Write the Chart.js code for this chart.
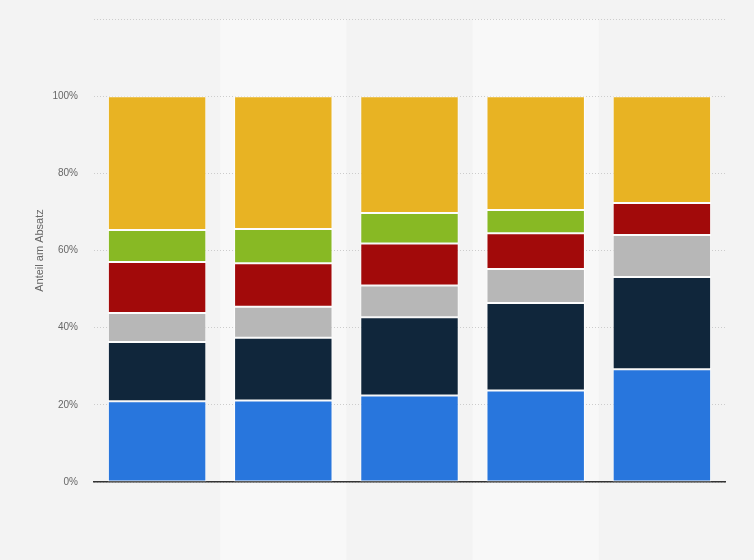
<!DOCTYPE html>
<html>
<head>
<meta charset="utf-8">
<script src="https://cdn.jsdelivr.net/npm/chart.js@4/dist/chart.umd.min.js"></script>
<style>
  html, body { margin: 0; padding: 0; background: #f3f3f3; }
  #wrap { width: 754px; height: 560px; }
</style>
</head>
<body>
<div id="wrap"><canvas id="chart"></canvas></div>
<script>
// Kategorien (Achsenbeschriftung im Original nicht sichtbar)
const categories = ['1', '2', '3', '4', '5'];

// Anteile je Segment in Prozent, von unten nach oben
const seriesBlue   = [20.9, 21.1, 22.4, 23.7, 29.2];
const seriesNavy   = [15.4, 16.3, 20.3, 22.7, 23.9];
const seriesGray   = [7.5, 8.0, 8.2, 8.8, 10.9];
const seriesRed    = [13.2, 11.3, 10.9, 9.3, 8.3];
const seriesGreen  = [8.3, 8.9, 7.9, 6.0, 0];
const seriesYellow = [34.7, 34.4, 30.3, 29.5, 27.7];

const yTicks = [0, 20, 40, 60, 80, 100, 120];

// helle Spaltenstreifen hinter jeder zweiten Kategorie
const bandPlugin = {
    id: 'bands',
    beforeDraw(chart) {
        const ctx = chart.ctx;
        const x = chart.scales.x;
        const area = chart.chartArea;
        const w = (area.right - area.left) / categories.length;
        ctx.save();
        ctx.fillStyle = '#f3f3f3';
        ctx.fillRect(0, 0, chart.width, chart.height);
        ctx.fillStyle = '#f8f8f8';
        categories.forEach((c, i) => {
            if (i % 2 === 1) {
                const cx = x.getPixelForValue(i);
                ctx.fillRect(cx - w / 2, area.top, w, chart.height - area.top);
            }
        });
        ctx.restore();
    }
};

function makeSet(label, data, color) {
    return {
        label: label,
        data: data,
        backgroundColor: color,
        borderColor: 'rgba(255,255,255,0.75)',
        borderWidth: 1,
        borderSkipped: false,
        barPercentage: 0.78,
        categoryPercentage: 1
    };
}

new Chart(document.getElementById('chart'), {
    type: 'bar',
    data: {
        labels: categories,
        datasets: [
            makeSet('Segment 1', seriesBlue, '#2876dd'),
            makeSet('Segment 2', seriesNavy, '#10263b'),
            makeSet('Segment 3', seriesGray, '#b7b7b7'),
            makeSet('Segment 4', seriesRed, '#a20a0a'),
            makeSet('Segment 5', seriesGreen, '#88b924'),
            makeSet('Segment 6', seriesYellow, '#e8b323')
        ]
    },
    options: {
        responsive: true,
        maintainAspectRatio: false,
        animation: false,
        layout: { padding: { top: 19, right: 29, bottom: 70, left: 0 } },
        plugins: { legend: { display: false }, tooltip: { enabled: false } },
        scales: {
            x: {
                stacked: true,
                ticks: { display: false },
                grid: { display: false },
                border: { display: true, color: '#333333', width: 1.5 }
            },
            y: {
                stacked: true,
                min: 0,
                max: 120,
                afterBuildTicks(scale) {
                    scale.ticks = yTicks.map(v => ({ value: v }));
                },
                afterFit(scale) {
                    scale.width = 94;
                    scale.paddingTop = 0;
                },
                ticks: {
                    padding: 16,
                    color: '#666666',
                    font: { family: 'Liberation Sans', size: 10 },
                    callback: v => v === 120 ? '' : v + '%'
                },
                grid: {
                    color: '#cccccc',
                    lineWidth: 1,
                    drawTicks: false
                },
                border: { display: false, dash: [1, 2] },
                title: {
                    display: true,
                    text: 'Anteil am Absatz',
                    color: '#666666',
                    font: { family: 'Liberation Sans', size: 11 },
                    padding: { top: 33, bottom: 0 }
                }
            }
        }
    },
    plugins: [bandPlugin]
});
</script>
</body>
</html>
